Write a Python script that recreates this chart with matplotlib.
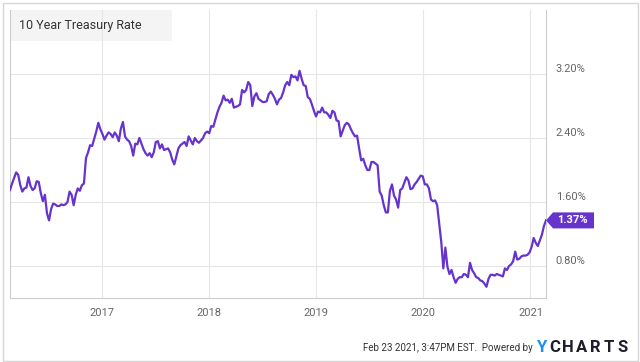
import matplotlib.pyplot as plt
import matplotlib.transforms as mtransforms
from matplotlib.patches import Rectangle, Polygon
import matplotlib.dates as mdates
import pandas as pd

plt.rcParams['font.family'] = ['Roboto', 'DejaVu Sans']

# weekly 10 year treasury rate (%), one value per Tuesday starting Feb 23 2016
rates_2016 = [1.75,
              1.83, 1.90, 1.97, 1.94, 1.81,
              1.73, 1.77, 1.78, 1.91,
              1.80, 1.75, 1.77, 1.86, 1.85,
              1.71, 1.61, 1.69, 1.46,
              1.37, 1.51, 1.58, 1.57,
              1.55, 1.55, 1.57, 1.56, 1.57,
              1.60, 1.73, 1.69, 1.56,
              1.69, 1.77, 1.74, 1.81,
              1.83, 2.15, 2.22, 2.31, 2.30,
              2.39, 2.48, 2.59, 2.51]
rates_2017 = [2.45, 2.38, 2.43, 2.47, 2.45,
              2.41, 2.47, 2.43, 2.36,
              2.52, 2.60, 2.42, 2.38,
              2.36, 2.30, 2.18, 2.33,
              2.32, 2.40, 2.33, 2.26, 2.21,
              2.18, 2.21, 2.16, 2.22,
              2.35, 2.36, 2.27, 2.32,
              2.25, 2.26, 2.27, 2.22, 2.13,
              2.07, 2.17, 2.27, 2.31,
              2.33, 2.35, 2.30, 2.42, 2.37,
              2.32, 2.40, 2.36, 2.34,
              2.37, 2.40, 2.46, 2.48]
rates_2018 = [2.46, 2.55, 2.54, 2.63, 2.72,
              2.79, 2.84, 2.93, 2.87,
              2.88, 2.84, 2.89, 2.78,
              2.79, 2.80, 2.82, 3.00,
              2.97, 3.00, 3.10, 3.06, 2.80,
              2.92, 2.96, 2.89, 2.87,
              2.85, 2.85, 2.86, 2.95, 2.98,
              2.94, 2.89, 2.82, 2.88,
              2.90, 2.97, 3.06, 3.10,
              3.06, 3.19, 3.16, 3.17, 3.12,
              3.24, 3.14, 3.06, 3.05,
              2.91, 2.89, 2.82, 2.74]
rates_2019 = [2.67, 2.73, 2.72, 2.78, 2.72,
              2.72, 2.69, 2.65, 2.74,
              2.72, 2.62, 2.61, 2.42,
              2.49, 2.56, 2.59, 2.57, 2.51,
              2.46, 2.42, 2.43, 2.27,
              2.12, 2.14, 2.06, 2.00,
              2.00, 2.10, 2.10, 2.08, 2.06,
              1.73, 1.68, 1.56, 1.47,
              1.47, 1.74, 1.82, 1.68,
              1.63, 1.53, 1.75, 1.77, 1.84,
              1.91, 1.87, 1.76, 1.77,
              1.82, 1.85, 1.89, 1.93, 1.92]
rates_2020 = [1.82, 1.82, 1.77, 1.63,
              1.61, 1.62, 1.56, 1.33,
              1.10, 0.77, 1.03, 0.79, 0.70,
              0.75, 0.66, 0.59, 0.64,
              0.66, 0.66, 0.70, 0.69,
              0.66, 0.84, 0.75, 0.71, 0.66,
              0.65, 0.62, 0.61, 0.58,
              0.54, 0.64, 0.69, 0.69,
              0.68, 0.70, 0.69, 0.68, 0.67,
              0.77, 0.75, 0.80, 0.82,
              0.86, 0.98, 0.88, 0.89,
              0.92, 0.93, 0.93, 0.94, 0.97]
rates_2021 = [1.04, 1.15, 1.09, 1.05,
              1.12, 1.19, 1.30, 1.37]

rates = rates_2016 + rates_2017 + rates_2018 + rates_2019 + rates_2020 + rates_2021
dates = pd.date_range("2016-02-23", periods=len(rates), freq="7D")

year_ticks = [2017, 2018, 2019, 2020, 2021]
rate_ticks = [0.8, 1.6, 2.4, 3.2]
rate_labels = ["0.80%", "1.60%", "2.40%", "3.20%"]

line_color = "#6633cc"

fig = plt.figure(figsize=(6.4, 3.62), dpi=100)
ax = fig.add_axes([10 / 640, 1 - 298 / 362, 536 / 640, 288 / 362])
ax.set_facecolor("none")

ax.plot(dates, rates, color=line_color, lw=1.6, zorder=3, solid_joinstyle="round")

ax.set_xlim(pd.Timestamp("2016-02-23"), pd.Timestamp("2021-02-23"))
ax.set_ylim(0.4, 4.0)
ax.set_xticks([pd.Timestamp(f"{y}-01-01") for y in year_ticks])
ax.set_xticklabels([str(y) for y in year_ticks])
ax.yaxis.tick_right()
ax.set_yticks(rate_ticks)
ax.set_yticklabels(rate_labels)
ax.tick_params(length=0, colors="#666666", labelsize=8)
ax.tick_params(axis="x", pad=7)
ax.tick_params(axis="y", pad=7)
ax.grid(color="#e6e6e6", lw=0.8)
ax.spines["top"].set_visible(False)
for s in ["left", "right", "bottom"]:
    ax.spines[s].set_color("#cccccc")

# y labels sit a little above their gridlines
shift = mtransforms.ScaledTranslation(0, 6 / 100, fig.dpi_scale_trans)
for lab in ax.get_yticklabels():
    lab.set_transform(lab.get_transform() + shift)

# last value badge
x_end = mdates.date2num(dates[-1])
y_end = rates[-1]
badge_trans = fig.dpi_scale_trans + mtransforms.ScaledTranslation(x_end, y_end, ax.transData)
pts = [(0, 0), (7, 8), (48, 8), (48, -8), (7, -8)]
badge = Polygon([(px / 100, py / 100) for px, py in pts], closed=True,
                facecolor=line_color, edgecolor="none", transform=badge_trans,
                clip_on=False, zorder=5)
ax.add_patch(badge)
ax.annotate(f"{y_end:.2f}%", xy=(dates[-1], y_end), xytext=(19, 0),
            textcoords="offset points", ha="center", va="center",
            color="white", fontsize=8, fontweight="bold",
            annotation_clip=False, zorder=6)

# title box
fig.patches.append(Rectangle((10 / 640, 1 - 41 / 362), 162 / 640, 31 / 362,
                             transform=fig.transFigure, facecolor="#f4f4f4",
                             edgecolor="none", zorder=-1))
fig.text(19 / 640, 1 - 26 / 362, "10 Year Treasury Rate", fontsize=9,
         color="#333333", va="center")

# outer frame
fig.patches.append(Rectangle((3 / 640, 1 - 361 / 362), 635 / 640, 358 / 362,
                             transform=fig.transFigure, fill=False,
                             edgecolor="#d6d6d6", lw=1))

# footer
fig.text(533 / 640, 1 - 348 / 362, "Feb 23 2021, 3:47PM EST.  Powered by",
         ha="right", va="center", fontsize=7, color="#333333")
brand = "YCHARTS"
for i, ch in enumerate(brand):
    fig.text((541 + 13.6 * i) / 640, 1 - 348 / 362, ch, ha="center", va="center",
             fontsize=12, fontweight="bold",
             color="#1e8ff0" if ch == "Y" else "#1d1d2b")

fig.savefig("out.png", dpi=100)
